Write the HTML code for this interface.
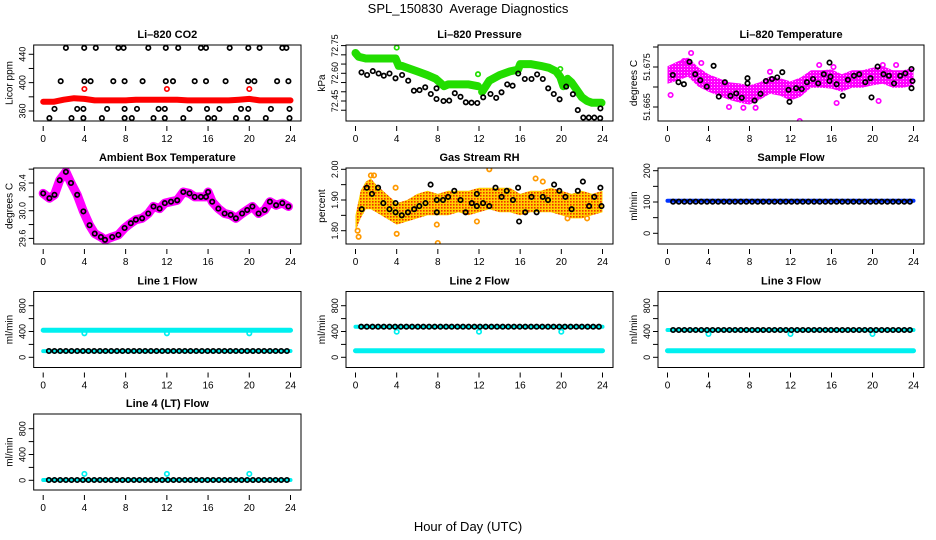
<!DOCTYPE html>
<html><head><meta charset="utf-8"><title>SPL_150830 Average Diagnostics</title>
<style>
html,body{margin:0;padding:0;background:#fff;}
svg{display:block;font-family:"Liberation Sans",Arial,sans-serif;}
</style></head>
<body>
<svg id="chart" width="936" height="540" viewBox="0 0 936 540" xmlns="http://www.w3.org/2000/svg">
<defs>
<pattern id="rhPat" width="3" height="3" patternUnits="userSpaceOnUse"><rect width="3" height="3" fill="#ffd000"/><rect x="0" y="0" width="1.6" height="1.6" fill="#f03000"/></pattern>
<pattern id="tPat" width="3" height="3" patternUnits="userSpaceOnUse"><rect width="3" height="3" fill="#ff00ff"/><rect x="0" y="0" width="1" height="1" fill="#ffb0ff"/></pattern>
<pattern id="gPat" width="3" height="3" patternUnits="userSpaceOnUse"><rect width="3" height="3" fill="#22dd00"/><rect x="0" y="0" width="1" height="1" fill="#0a5a00"/></pattern>
</defs>
<text x="468" y="13" text-anchor="middle" font-size="13" style="white-space:pre">SPL_150830  Average Diagnostics</text>
<text x="468" y="531" text-anchor="middle" font-size="13">Hour of Day (UTC)</text>
</svg>
<script>
// ---------- data ----------
const xTicks = [0,4,8,12,16,20,24];
// CO2
const co2BandHours = [0,1,2,3,4,5,6,7,8,9,10,11,12,13,14,15,16,17,18,19,20,21,22,23,24];
const co2BandVals = [373,373,376,378,377,375,375,375,375,376,376,376,376,376,375,375,375,375,375,376,377,375,375,375,375];
const co2RedHours = [4,12,20];
const co2RedVals = [391,391,391];
const co2BlackHours = [2.2,3.98,5.1,7.3,7.8,10.2,11.9,13.1,15.3,15.8,18.1,19.9,21.0,23.2,23.6,
 1.7,4.0,4.6,6.8,7.9,9.65,11.9,12.6,14.7,15.8,17.7,19.9,20.5,22.7,23.8,
 1.1,3.3,3.9,6.2,7.9,9.1,11.2,11.8,14.2,15.9,17.1,19.2,19.9,22.1,23.9,
 0.6,2.75,3.9,5.7,7.9,8.6,10.7,11.8,13.6,16.0,16.6,18.7,19.8,21.6,23.9];
const co2BlackVals = [449,449,449,449,449,449,449,449,449,449,449,449,449,449,449,
 402,402,402,402,402,402,402,402,402,402,402,402,402,402,402,
 363,363,363,363,363,363,363,363,363,363,363,363,363,363,363,
 350,350,350,350,350,350,350,350,350,350,350,350,350,350,350];
// Pressure
const presBandHoursA = [0,0.3,1,2,3,3.9,4.2,4.5,5,6,7,7.8,8.2,8.6,9,10,11,11.9];
const presBandValsA = [72.71,72.69,72.68,72.68,72.68,72.68,72.64,72.64,72.63,72.61,72.59,72.57,72.55,72.53,72.54,72.54,72.54,72.53];
const presBandHoursB = [12.3,13,14,15,15.8,16,17,18,18.8,19.5,19.9,20.2,20.6,21,21.5,22,22.5,23,23.9];
const presBandValsB = [72.50,72.56,72.59,72.61,72.62,72.65,72.65,72.64,72.63,72.61,72.58,72.53,72.57,72.55,72.51,72.47,72.45,72.44,72.44];
const presGreenHours = [4.0,11.9,19.9];
const presGreenVals = [72.739,72.595,72.623];
const presBlackHours = [0.58,1.13,1.68,2.24,2.75,3.3,3.89,4.53,5.12,5.67,6.22,6.77,7.32,7.87,7.87,8.55,9.1,9.65,10.2,10.72,11.27,11.83,12.41,13.12,13.67,14.19,14.74,15.26,15.81,16.45,17.1,17.65,18.2,18.72,19.27,19.83,20.47,21.12,21.6,22.13,22.67,23.2,23.78,23.8];
const presBlackVals = [72.605,72.591,72.612,72.599,72.587,72.599,72.573,72.591,72.56,72.506,72.509,72.524,72.488,72.461,72.519,72.45,72.452,72.492,72.473,72.443,72.441,72.439,72.47,72.488,72.467,72.497,72.54,72.533,72.599,72.569,72.569,72.594,72.569,72.519,72.488,72.459,72.528,72.487,72.401,72.36,72.36,72.36,72.357,72.41];
// Li-820 temperature
const tempBandHours = [0,1,2,3,4,5,6,7,8,9,10,11,12,13,14,15,16,17,18,19,20,21,22,23,24];
const tempBandCenter = [51.673,51.674,51.675,51.6725,51.671,51.670,51.669,51.6685,51.668,51.669,51.6705,51.670,51.669,51.670,51.672,51.672,51.672,51.671,51.672,51.672,51.6726,51.673,51.672,51.672,51.6726];
const tempBandSpread = [0.0022,0.0024,0.0024,0.0024,0.0022,0.0022,0.0022,0.0024,0.0024,0.0022,0.0022,0.0022,0.0024,0.0024,0.0022,0.0022,0.0024,0.0022,0.0022,0.0022,0.0022,0.0022,0.0022,0.0022,0.0022];
const tempPinkHours = [2.3,1.6,3.3,12.9,14.8,16.2,7.4,6.0,21.0,22.3,10,20.6,16.5,0.3,8.6];
const tempPinkVals = [51.6785,51.6765,51.676,51.6615,51.6755,51.675,51.6648,51.665,51.6755,51.6755,51.6738,51.6665,51.666,51.668,51.6648];
const tempBlackHours = [0.52,1.07,1.6,2.15,2.7,3.2,3.83,4.5,5.0,5.6,6.15,6.7,7.25,7.8,7.8,8.5,9.07,9.6,10.2,10.7,11.2,11.8,11.9,12.55,13.1,13.6,14.2,14.7,15.25,15.8,15.9,15.8,16.5,17.1,17.6,18.2,18.7,19.3,19.8,19.9,20.5,21.07,21.6,22.1,22.7,23.2,23.8,23.9,23.8];
const tempBlackVals = [51.673,51.6712,51.6707,51.6763,51.6732,51.6717,51.6701,51.6753,51.6676,51.6712,51.6678,51.6684,51.6673,51.6709,51.6722,51.6666,51.6683,51.6715,51.672,51.6724,51.6737,51.6693,51.6663,51.6697,51.6695,51.6712,51.672,51.6709,51.6732,51.6761,51.6726,51.6715,51.6707,51.6678,51.6718,51.6728,51.6732,51.6712,51.6722,51.6674,51.6751,51.6732,51.6728,51.6709,51.6728,51.6734,51.6745,51.6715,51.6697];
// Ambient box temperature
const ambHours = [0,0.6,1.1,1.6,2.2,2.7,3.3,3.9,4.5,5,5.6,6,6.7,7.3,7.9,8.5,9,9.6,10.2,10.7,11.3,11.8,12.4,13,13.6,14.2,14.7,15.3,15.8,16,16.4,17,17.6,18.2,18.7,19.3,19.8,20.3,20.9,21.5,22,22.6,23.2,23.8];
const ambVals = [30.25,30.18,30.23,30.44,30.56,30.40,30.23,29.99,29.79,29.67,29.62,29.58,29.62,29.65,29.75,29.82,29.87,29.89,29.96,30.06,30.03,30.11,30.13,30.15,30.27,30.25,30.20,30.20,30.20,30.27,30.13,30.03,29.96,29.94,29.89,29.96,30.01,30.06,29.96,30.01,30.13,30.08,30.11,30.06];
// Gas stream RH
const rhBandHours = [0,0.5,1,1.5,2,3,4,5,6,7,8,9,10,11,12,13,14,15,16,17,18,19,20,21,22,23,24];
const rhBandUpper = [1.85,1.93,1.96,1.97,1.95,1.92,1.89,1.90,1.92,1.93,1.92,1.93,1.93,1.93,1.94,1.94,1.94,1.94,1.92,1.93,1.93,1.94,1.93,1.92,1.93,1.92,1.93];
const rhBandLower = [1.80,1.84,1.87,1.87,1.86,1.84,1.82,1.83,1.84,1.85,1.85,1.85,1.86,1.85,1.86,1.87,1.86,1.86,1.85,1.86,1.86,1.86,1.85,1.84,1.84,1.85,1.86];
const rhOrangeHours = [0.2,0.3,1.5,1.8,3.9,4.0,8.0,13.0,17.5,18.2,20.6,22.5,7.9,11.8];
const rhOrangeVals = [1.80,1.78,1.98,1.98,1.94,1.79,1.76,2.00,1.97,1.96,1.84,1.84,1.82,1.83];
const rhBlackHours = [0.6,1.1,1.6,2.2,2.7,3.3,3.9,3.9,4.5,5.1,5.7,6.2,6.8,7.3,7.9,7.9,8.5,9.0,9.6,10.2,10.7,11.3,11.8,11.8,12.4,13.0,13.6,14.2,14.7,15.3,15.8,15.9,16.5,17.1,17.6,18.2,18.7,19.3,19.8,20.4,21.0,21.6,22.1,22.7,23.2,23.8,23.9];
const rhBlackVals = [1.87,1.94,1.92,1.94,1.89,1.87,1.89,1.86,1.85,1.86,1.87,1.88,1.89,1.95,1.90,1.86,1.90,1.91,1.93,1.90,1.86,1.89,1.92,1.88,1.89,1.88,1.94,1.91,1.93,1.90,1.94,1.83,1.86,1.91,1.86,1.91,1.90,1.95,1.93,1.91,1.87,1.93,1.96,1.88,1.91,1.94,1.88];
// Flows
const flowHours = [0.55,1.1,1.65,2.2,2.75,3.3,3.85,4.4,4.95,5.5,6.05,6.6,7.15,7.7,8.25,8.8,9.35,9.9,10.45,11,11.55,12.1,12.65,13.2,13.75,14.3,14.85,15.4,15.95,16.5,17.05,17.6,18.15,18.7,19.25,19.8,20.35,20.9,21.45,22,22.55,23.1,23.65];
const sampleBlack = [101,101,101,101,101,101,101,101,101,101,101,101,101,101,101,101,101,101,101,101,101,101,101,101,101,101,101,101,101,101,101,101,101,101,101,101,101,101,101,101,101,101,101];
const sampleBlue = [104,104];
const line1Black = [98,98,98,98,98,98,98,98,98,98,98,98,98,98,98,98,98,98,98,98,98,98,98,98,98,98,98,98,98,98,98,98,98,98,98,98,98,98,98,98,98,98,98];
const line2Black = [474,474,474,474,474,474,474,474,474,474,474,474,474,474,474,474,474,474,474,474,474,474,474,474,474,474,474,474,474,474,474,474,474,474,474,474,474,474,474,474,474,474,474];
const line3Black = [423,423,423,423,423,423,423,423,423,423,423,423,423,423,423,423,423,423,423,423,423,423,423,423,423,423,423,423,423,423,423,423,423,423,423,423,423,423,423,423,423,423,423];
const line4Black = [5,5,5,5,5,5,5,5,5,5,5,5,5,5,5,5,5,5,5,5,5,5,5,5,5,5,5,5,5,5,5,5,5,5,5,5,5,5,5,5,5,5,5];
const line1CyanHigh = [420,420];
const line1CyanLow = [95,98];
const line2CyanHigh = [474,474];
const line2CyanLow = [102,102];
const line3CyanHigh = [423,423];
const line3CyanLow = [102,102];
const line4CyanLow = [5,5];
const spikeHours = [4,12,20];
const line1Spikes = [372,372,372];
const line2Spikes = [397,397,397];
const line3Spikes = [361,361,361];
const line4Spikes = [100,100,100];

// ---------- drawing ----------
const NS = "http://www.w3.org/2000/svg";
const svg = document.getElementById('chart');
function mk(tag, attrs, parent){
  const e = document.createElementNS(NS, tag);
  for (const k in attrs) e.setAttribute(k, attrs[k]);
  (parent || svg).appendChild(e);
  return e;
}
const colL = [33.7,346,658], colR = [301,613,924];
const rowT = [45,168,291.5,414];

function panel(cfg){
  const left = colL[cfg.col], right = colR[cfg.col], top = rowT[cfg.row], bottom = top + 76;
  const g = mk('g', {});
  
  
  const x0 = left + 9.5, x24 = right - 10.5;
  const xs = h => x0 + h * (x24 - x0) / 24;
  const ys = v => top + cfg.off - (v - cfg.vRef) * cfg.k;
  const plot = mk('g', {}, g);
  
  
  const clipId = 'clip-' + cfg.name;
  const cp = mk('clipPath', {id: clipId}, g);
  mk('rect', {x: left, y: top, width: right - left, height: bottom - top}, cp);
  plot.setAttribute('clip-path', 'url(#' + clipId + ')');
  const box = mk('rect', {x: left, y: top, width: right - left, height: bottom - top, fill: 'none', stroke: '#000', 'stroke-width': 1}, g);
  
  
  const t = mk('text', {x: (left + right) / 2, y: top - 7, 'text-anchor': 'middle', 'font-size': 11, 'font-weight': 'bold'}, g);
  t.textContent = cfg.title;
  
  
  const xa = mk('g', {}, g);
  
  
  xTicks.forEach(h => {
    mk('line', {x1: xs(h), x2: xs(h), y1: bottom + 5, y2: bottom + 10, stroke: '#000'}, xa);
    const l = mk('text', {x: xs(h), y: bottom + 21, 'text-anchor': 'middle', 'font-size': 10}, xa);
    l.textContent = String(h);
    
    
  });
  const ya = mk('g', {}, g);
  
  
  cfg.ticks.forEach((v, i) => {
    const y = ys(v);
    if (y < top - 0.5 || y > bottom + 0.5) return;
    mk('line', {x1: left - 5, x2: left, y1: y, y2: y, stroke: '#000'}, ya);
    const lab = cfg.labels[i];
    if (lab) {
      const l = mk('text', {x: left - 8, y: y, 'text-anchor': 'middle', 'font-size': 9, transform: 'rotate(-90 ' + (left - 8) + ' ' + y + ')'}, ya);
      l.textContent = lab;
      
      
    }
  });
  const yt = mk('text', {x: left - 21, y: (top + bottom) / 2, 'text-anchor': 'middle', 'font-size': 10, transform: 'rotate(-90 ' + (left - 21) + ' ' + ((top + bottom) / 2) + ')'}, ya);
  yt.textContent = cfg.ylab;
  
  
  return {plot, xs, ys};
}
function band(p, hours, vals, color, w, name){
  const pts = hours.map((h, i) => p.xs(h).toFixed(1) + ',' + p.ys(vals[i]).toFixed(1)).join(' ');
  const l = mk('polyline', {points: pts, fill: 'none', stroke: color, 'stroke-width': w, 'stroke-linejoin': 'round', 'stroke-linecap': 'round'}, p.plot);
  
  
}
function flatBand(p, vals, color, w, name){
  const l = mk('line', {x1: p.xs(0), x2: p.xs(24), y1: p.ys(vals[0]), y2: p.ys(vals[vals.length - 1]), stroke: color, 'stroke-width': w, 'stroke-linecap': 'round'}, p.plot);
  
  
}
function area(p, hours, up, lo, fill, name){
  const a = hours.map((h, i) => p.xs(h).toFixed(1) + ',' + p.ys(up[i]).toFixed(1));
  const b = hours.map((h, i) => p.xs(h).toFixed(1) + ',' + p.ys(lo[i]).toFixed(1)).reverse();
  const pg = mk('polygon', {points: a.concat(b).join(' '), fill: fill}, p.plot);
  
  
}
function pts(p, hours, vals, color, name, r){
  hours.forEach((h, i) => {
    const c = mk('circle', {cx: p.xs(h).toFixed(1), cy: p.ys(vals[i]).toFixed(1), r: r || 2.2, fill: 'none', stroke: color, 'stroke-width': 1.7}, p.plot);
    
    
  });
}

// Li-820 CO2
let p = panel({name: 'co2', title: 'Li\u2013820 CO2', col: 0, row: 0, vRef: 360, off: 66, k: 0.709, ticks: [340,360,380,400,420,440], labels: ['', '360', '', '400', '', '440'], ylab: 'Licor ppm'});
band(p, co2BandHours, co2BandVals, '#ff0000', 6, 'co2-red-series');
pts(p, co2RedHours, co2RedVals, '#ff0000', 'co2-red-point');
pts(p, co2BlackHours, co2BlackVals, '#000', 'co2-average-point');

// Pressure
p = panel({name: 'pressure', title: 'Li\u2013820 Pressure', col: 1, row: 0, vRef: 72.45, off: 56, k: 184.7, ticks: [72.40,72.45,72.50,72.55,72.60,72.65,72.70,72.75], labels: ['', '72.45', '', '', '72.60', '', '', '72.75'], ylab: 'kPa'});
band(p, presBandHoursA, presBandValsA, '#22dd00', 8, 'pressure-green-series');
band(p, presBandHoursB, presBandValsB, '#22dd00', 8, 'pressure-green-series');
pts(p, presGreenHours, presGreenVals, '#22dd00', 'pressure-green-point');
pts(p, presBlackHours, presBlackVals, '#000', 'pressure-average-point');

// Li-820 Temperature
p = panel({name: 'li820-temp', title: 'Li\u2013820 Temperature', col: 2, row: 0, vRef: 51.665, off: 62, k: 4000, ticks: [51.66,51.665,51.67,51.675,51.68], labels: ['', '51.665', '', '51.675', ''], ylab: 'degrees C'});
area(p, tempBandHours, tempBandCenter.map((c, i) => c + tempBandSpread[i]), tempBandCenter.map((c, i) => c - tempBandSpread[i]), 'url(#tPat)', 'temp-magenta-series');
pts(p, tempPinkHours, tempPinkVals, '#ff00ff', 'temp-magenta-point');
pts(p, tempBlackHours, tempBlackVals, '#000', 'temp-average-point');

// Ambient box temperature
p = panel({name: 'ambient-temp', title: 'Ambient Box Temperature', col: 0, row: 1, vRef: 30.0, off: 42.7, k: 69.25, ticks: [29.4,29.6,29.8,30.0,30.2,30.4,30.6], labels: ['', '29.6', '', '30.0', '', '30.4', ''], ylab: 'degrees C'});
band(p, ambHours, ambVals, '#ff00ff', 9, 'ambient-magenta-series');
pts(p, ambHours, ambVals, '#000', 'ambient-average-point');

// Gas stream RH
p = panel({name: 'rh', title: 'Gas Stream RH', col: 1, row: 1, vRef: 1.90, off: 32, k: 307, ticks: [1.75,1.80,1.85,1.90,1.95,2.00], labels: ['', '1.80', '', '1.90', '', '2.00'], ylab: 'percent'});
area(p, rhBandHours, rhBandUpper, rhBandLower, 'url(#rhPat)', 'rh-orange-series');
pts(p, rhOrangeHours, rhOrangeVals, '#ff9900', 'rh-orange-point');
pts(p, rhBlackHours, rhBlackVals, '#000', 'rh-average-point');

// Sample flow
p = panel({name: 'sample-flow', title: 'Sample Flow', col: 2, row: 1, vRef: 100, off: 34, k: 0.313, ticks: [0,50,100,150,200], labels: ['0', '', '100', '', '200'], ylab: 'ml/min'});
flatBand(p, sampleBlue, '#0033ff', 4, 'sample-flow-blue-series');
pts(p, flowHours, sampleBlack, '#000', 'sample-flow-average-point');

const flowTicks = [0,200,400,600,800], flowLabels = ['0', '', '400', '', '800'];
// Line 1
p = panel({name: 'line1-flow', title: 'Line 1 Flow', col: 0, row: 2, vRef: 0, off: 65.8, k: 0.0645, ticks: flowTicks, labels: flowLabels, ylab: 'ml/min'});
flatBand(p, line1CyanHigh, '#00f0f0', 5, 'line1-cyan-high-series');
flatBand(p, line1CyanLow, '#00f0f0', 4, 'line1-cyan-low-series');
pts(p, spikeHours, line1Spikes, '#00f0f0', 'line1-cyan-point');
pts(p, flowHours, line1Black, '#000', 'line1-average-point');
// Line 2
p = panel({name: 'line2-flow', title: 'Line 2 Flow', col: 1, row: 2, vRef: 0, off: 65.8, k: 0.0645, ticks: flowTicks, labels: flowLabels, ylab: 'ml/min'});
flatBand(p, line2CyanHigh, '#00f0f0', 4, 'line2-cyan-high-series');
flatBand(p, line2CyanLow, '#00f0f0', 5, 'line2-cyan-low-series');
pts(p, spikeHours, line2Spikes, '#00f0f0', 'line2-cyan-point');
pts(p, flowHours, line2Black, '#000', 'line2-average-point');
// Line 3
p = panel({name: 'line3-flow', title: 'Line 3 Flow', col: 2, row: 2, vRef: 0, off: 65.8, k: 0.0645, ticks: flowTicks, labels: flowLabels, ylab: 'ml/min'});
flatBand(p, line3CyanHigh, '#00f0f0', 4, 'line3-cyan-high-series');
flatBand(p, line3CyanLow, '#00f0f0', 5, 'line3-cyan-low-series');
pts(p, spikeHours, line3Spikes, '#00f0f0', 'line3-cyan-point');
pts(p, flowHours, line3Black, '#000', 'line3-average-point');
// Line 4
p = panel({name: 'line4-flow', title: 'Line 4 (LT) Flow', col: 0, row: 3, vRef: 0, off: 66.3, k: 0.0645, ticks: flowTicks, labels: flowLabels, ylab: 'ml/min'});
flatBand(p, line4CyanLow, '#00f0f0', 4, 'line4-cyan-series');
pts(p, spikeHours, line4Spikes, '#00f0f0', 'line4-cyan-point');
pts(p, flowHours, line4Black, '#000', 'line4-average-point');
</script>
</body></html>
